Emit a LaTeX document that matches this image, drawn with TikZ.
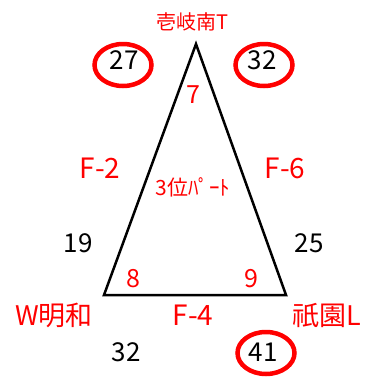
\documentclass[tikz,border=0pt]{standalone}
\usepackage{fontspec}
\setmainfont{Noto Sans CJK JP}
\usetikzlibrary{shapes.geometric}

\begin{document}
\begin{tikzpicture}[x=1pt,y=-1pt]
  \tikzstyle{redlbl}=[text=red, inner sep=0pt]
  \tikzstyle{blklbl}=[text=black, inner sep=0pt]
  \tikzstyle{ring}=[ellipse, draw=red, line width=4.5pt, minimum width=57pt, minimum height=42pt, inner sep=0pt]
  \useasboundingbox (0,0) rectangle (365,378);

  % Dreieck
  \coordinate (apex) at (196,44);
  \coordinate (bl) at (104,295);
  \coordinate (br) at (286,295);
  \draw[line width=2.5pt, line join=miter] (apex) -- (bl) -- (br) -- cycle;

  % Ecken
  \node[redlbl, font=\fontsize{20}{20}\selectfont] (top) at (192,22) {壱岐南T};
  \node[redlbl, font=\fontsize{27}{27}\selectfont] (left) at (54,315) {W明和};
  \node[redlbl, font=\fontsize{27}{27}\selectfont] (right) at (327,315) {祇園L};

  % Winkel
  \node[redlbl, font=\fontsize{25}{25}\selectfont] (a7) at (193,95) {7};
  \node[redlbl, font=\fontsize{25}{25}\selectfont] (a8) at (133,279) {8};
  \node[redlbl, font=\fontsize{25}{25}\selectfont] (a9) at (251,279) {9};
  \node[redlbl, font=\fontsize{21}{21}\selectfont] (rank) at (193,187) {3位ﾊﾟｰﾄ};

  % Seiten
  \node[redlbl, font=\fontsize{28}{28}\selectfont] (f2) at (100,168) {F-2};
  \node[redlbl, font=\fontsize{28}{28}\selectfont] (f6) at (285,168) {F-6};
  \node[redlbl, font=\fontsize{28}{28}\selectfont] (f4) at (193,315) {F-4};

  % Zahlen
  \node[blklbl, font=\fontsize{26}{26}\selectfont] (n27) at (124,60) {27};
  \node[blklbl, font=\fontsize{26}{26}\selectfont] (n32a) at (262,60) {32};
  \node[blklbl, font=\fontsize{26}{26}\selectfont] (n19) at (78,243) {19};
  \node[blklbl, font=\fontsize{26}{26}\selectfont] (n25) at (309,243) {25};
  \node[blklbl, font=\fontsize{26}{26}\selectfont] (n32b) at (126,352) {32};
  \node[blklbl, font=\fontsize{26}{26}\selectfont] (n41) at (263,352) {41};

  % Kreise
  \node[ring] (r27) at (123,65) {};
  \node[ring] (r32) at (264,65) {};
  \node[ring] (r41) at (266,353) {};
\end{tikzpicture}
\end{document}
